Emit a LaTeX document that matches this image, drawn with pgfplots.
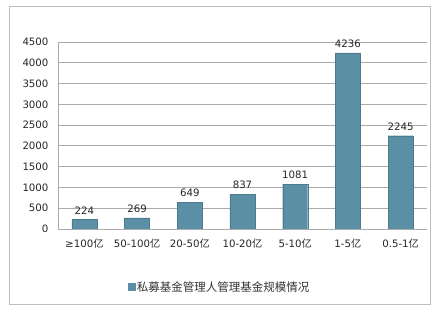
\documentclass[border=0pt]{standalone}
\usepackage{pgfplots}
\pgfplotsset{compat=1.18}
\usepackage{fontspec}
\setmainfont{DejaVu Sans}
\newfontfamily\cjk{Noto Sans CJK SC}
\definecolor{barc}{RGB}{91,143,166}
\definecolor{gridc}{RGB}{170,170,170}
\definecolor{framec}{RGB}{190,190,190}
\begin{document}
\begin{tikzpicture}[x=1pt,y=1pt]
\useasboundingbox (0,0) rectangle (436,315);
\fill[white] (0,0) rectangle (436,315);
\draw[framec,line width=1pt] (9,10) rectangle (430,308);
\begin{axis}[
  at={(58pt,86pt)}, anchor=south west,
  scale only axis, width=369pt, height=187pt,
  xmin=-0.5, xmax=6.5, ymin=0, ymax=4500,
  ytick={0,500,...,4500},
  xtick={0,...,6},
  xticklabels={≥100{\cjk 亿},50-100{\cjk 亿},20-50{\cjk 亿},10-20{\cjk 亿},5-10{\cjk 亿},1-5{\cjk 亿},0.5-1{\cjk 亿}},
  ymajorgrids, grid style={gridc, line width=0.8pt},
  axis line style={gridc, line width=0.8pt},
  axis x line*=bottom, axis y line*=left,
  major tick length=0pt,
  tick label style={font=\fontsize{10.2}{12}\selectfont, text=black!85},
  yticklabel style={xshift=-6pt},
  xticklabel style={yshift=-6pt},
  /pgf/number format/assume math mode=true,
  /pgf/number format/1000 sep={},
  ybar, bar width=25pt,
  nodes near coords,
  nodes near coords style={font=\fontsize{10.2}{12}\selectfont, text=black!85, yshift=2pt},
  legend style={at={(0.4377,-0.31)}, anchor=center, draw=none, fill=none,
    font=\cjk\fontsize{11.5}{13}\selectfont, text=black!80},
  legend image code/.code={\fill[barc] (0pt,-3.5pt) rectangle (7pt,3.5pt);},
]
\addplot[fill=barc, draw=barc!85!black] coordinates {(0,224) (1,269) (2,649) (3,837) (4,1081) (5,4236) (6,2245)};
\addlegendentry{私募基金管理人管理基金规模情况}
\end{axis}
\end{tikzpicture}
\end{document}
